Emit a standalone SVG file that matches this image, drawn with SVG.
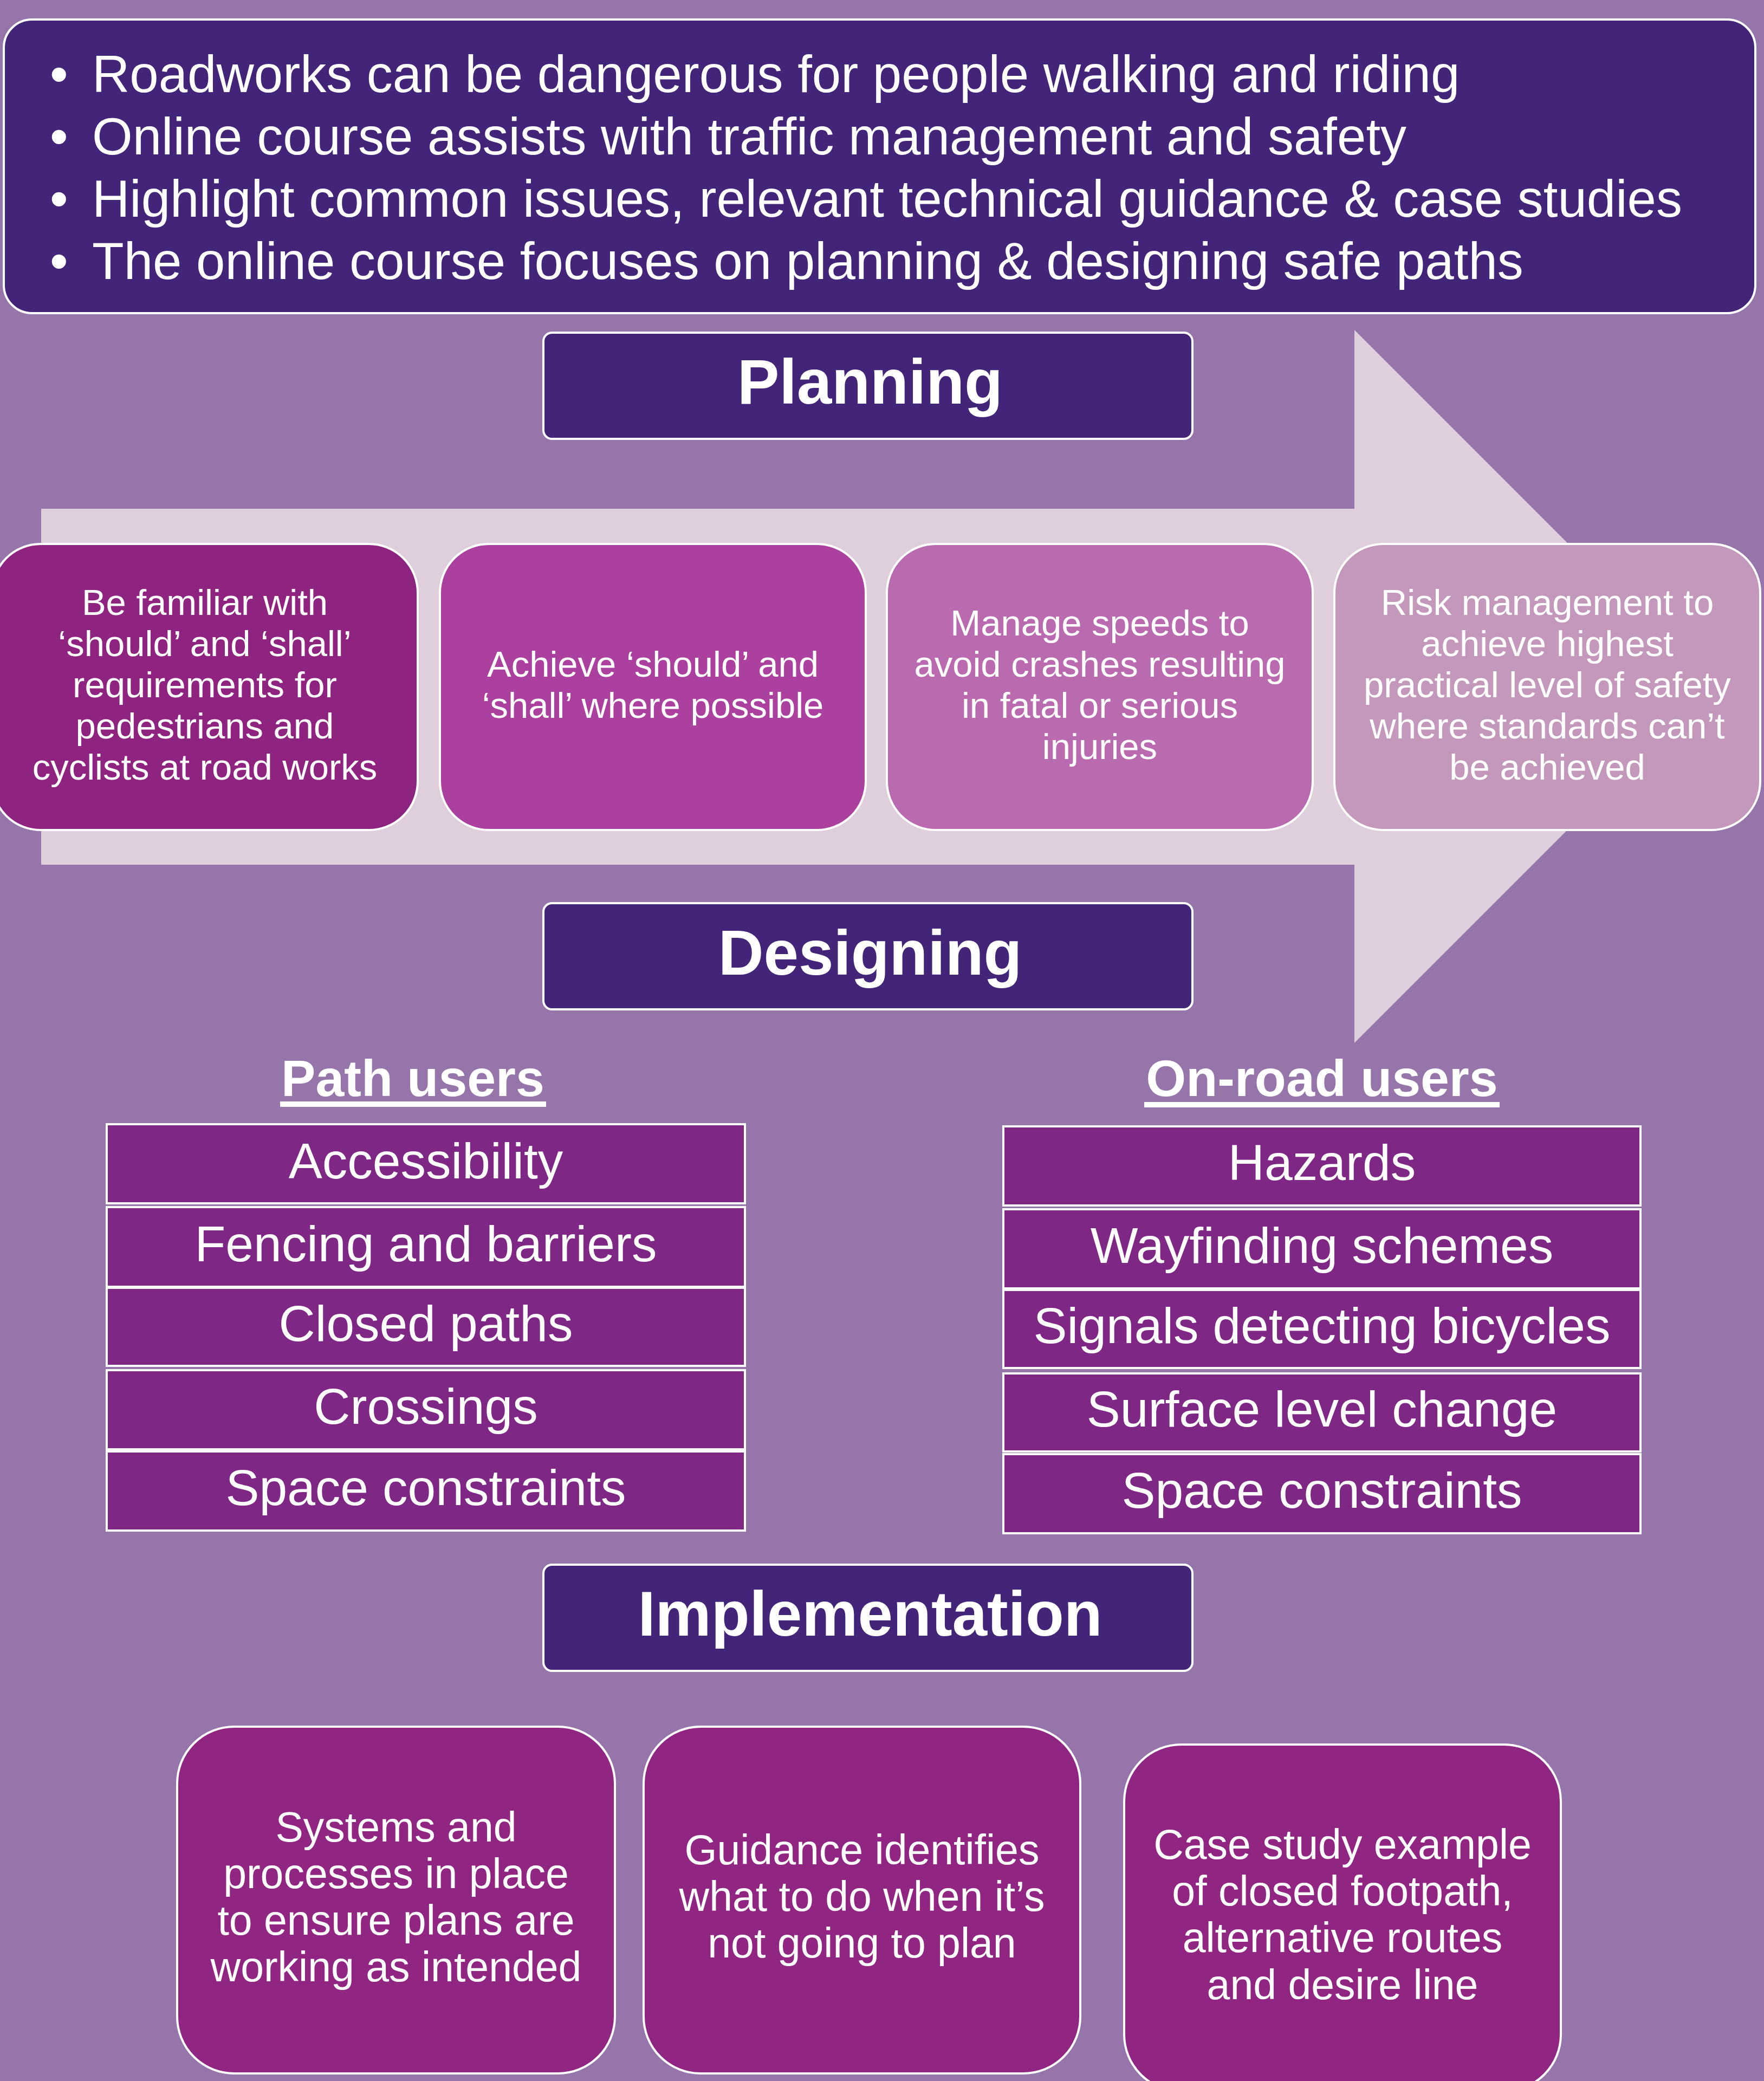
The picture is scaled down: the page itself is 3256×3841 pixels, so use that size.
<svg xmlns="http://www.w3.org/2000/svg" width="3256" height="3841" viewBox="0 0 3256 3841">
<style>
text{font-family:"Liberation Sans",Arial,sans-serif;fill:#fff}
.bul{font-size:96px}
.hd{font-size:116px;font-weight:bold;text-anchor:middle}
.sub{font-size:95px;font-weight:bold;text-anchor:middle}
.pt{font-size:67px;text-anchor:middle}
.li{font-size:93px;text-anchor:middle}
.bt{font-size:77px;text-anchor:middle}
.dark{fill:#422478;stroke:#fff;stroke-width:4}
.step{stroke:#fff;stroke-width:4}
.row{fill:#7E2784;stroke:#fff;stroke-width:4}
.imp{fill:#912682;stroke:#fff;stroke-width:4}
</style>
<rect x="0" y="0" width="3256" height="3841" fill="#9575AA"/>

<g id="intro">
<rect class="dark" x="7" y="36" width="3233" height="542" rx="52" ry="52"/>
<text class="bul" x="92" y="170">•<tspan x="170">Roadworks can be dangerous for people walking and riding</tspan></text>
<text class="bul" x="92" y="285">•<tspan x="170">Online course assists with traffic management and safety</tspan></text>
<text class="bul" x="92" y="400">•<tspan x="170">Highlight common issues, relevant technical guidance &amp; case studies</tspan></text>
<text class="bul" x="92" y="515">•<tspan x="170">The online course focuses on planning &amp; designing safe paths</tspan></text>
</g>

<g id="arrow">
<polygon points="76,939 2500,939 2500,609 3158,1267 2500,1925 2500,1596 76,1596" fill="#DFCEDC"/>
</g>

<g id="planning">
<rect class="dark" x="1003" y="614" width="1198" height="196" rx="16" ry="16"/>
<text class="hd" x="1606" y="745">Planning</text>
</g>

<g id="step1">
<rect class="step" x="-15" y="1004" width="786" height="528" rx="90" ry="90" fill="#8F2480"/>
<text class="pt" x="378" y="1135">Be familiar with</text>
<text class="pt" x="378" y="1211">‘should’ and ‘shall’</text>
<text class="pt" x="378" y="1287">requirements for</text>
<text class="pt" x="378" y="1363">pedestrians and</text>
<text class="pt" x="378" y="1439">cyclists at road works</text>
</g>
<g id="step2">
<rect class="step" x="812" y="1004" width="786" height="528" rx="90" ry="90" fill="#AC409E"/>
<text class="pt" x="1205" y="1249">Achieve ‘should’ and</text>
<text class="pt" x="1205" y="1325">‘shall’ where possible</text>
</g>
<g id="step3">
<rect class="step" x="1637" y="1004" width="786" height="528" rx="90" ry="90" fill="#BA6AAF"/>
<text class="pt" x="2030" y="1173">Manage speeds to</text>
<text class="pt" x="2030" y="1249">avoid crashes resulting</text>
<text class="pt" x="2030" y="1325">in fatal or serious</text>
<text class="pt" x="2030" y="1401">injuries</text>
</g>
<g id="step4">
<rect class="step" x="2463" y="1004" width="786" height="528" rx="90" ry="90" fill="#C398BB"/>
<text class="pt" x="2856" y="1135">Risk management to</text>
<text class="pt" x="2856" y="1211">achieve highest</text>
<text class="pt" x="2856" y="1287">practical level of safety</text>
<text class="pt" x="2856" y="1363">where standards can’t</text>
<text class="pt" x="2856" y="1439">be achieved</text>
</g>

<g id="designing">
<rect class="dark" x="1003" y="1667" width="1198" height="196" rx="16" ry="16"/>
<text class="hd" x="1606" y="1799">Designing</text>
</g>

<g id="path-users">
<text class="sub" x="762" y="2023">Path users</text>
<rect x="517" y="2033" width="491" height="10" fill="#fff"/>
<rect class="row" x="197" y="2075" width="1178" height="146"/>
<text class="li" x="786" y="2175">Accessibility</text>
<rect class="row" x="197" y="2228" width="1178" height="147"/>
<text class="li" x="786" y="2328">Fencing and barriers</text>
<rect class="row" x="197" y="2377" width="1178" height="144"/>
<text class="li" x="786" y="2475">Closed paths</text>
<rect class="row" x="197" y="2529" width="1178" height="146"/>
<text class="li" x="786" y="2628">Crossings</text>
<rect class="row" x="197" y="2679" width="1178" height="146"/>
<text class="li" x="786" y="2778">Space constraints</text>
</g>

<g id="onroad-users">
<text class="sub" x="2440" y="2023">On-road users</text>
<rect x="2112" y="2034" width="656" height="10" fill="#fff"/>
<rect class="row" x="1852" y="2079" width="1176" height="146"/>
<text class="li" x="2440" y="2178">Hazards</text>
<rect class="row" x="1852" y="2232" width="1176" height="146"/>
<text class="li" x="2440" y="2331">Wayfinding schemes</text>
<rect class="row" x="1852" y="2381" width="1176" height="144"/>
<text class="li" x="2440" y="2479">Signals detecting bicycles</text>
<rect class="row" x="1852" y="2535" width="1176" height="144"/>
<text class="li" x="2440" y="2633">Surface level change</text>
<rect class="row" x="1852" y="2684" width="1176" height="146"/>
<text class="li" x="2440" y="2783">Space constraints</text>
</g>

<g id="implementation">
<rect class="dark" x="1003" y="2888" width="1198" height="196" rx="16" ry="16"/>
<text class="hd" x="1606" y="3019">Implementation</text>
</g>

<g id="impl1">
<rect class="imp" x="327" y="3187" width="808" height="640" rx="105" ry="105"/>
<text class="bt" x="731" y="3399">Systems and</text>
<text class="bt" x="731" y="3485">processes in place</text>
<text class="bt" x="731" y="3571">to ensure plans are</text>
<text class="bt" x="731" y="3657">working as intended</text>
</g>
<g id="impl2">
<rect class="imp" x="1188" y="3187" width="806" height="640" rx="105" ry="105"/>
<text class="bt" x="1591" y="3441">Guidance identifies</text>
<text class="bt" x="1591" y="3527">what to do when it’s</text>
<text class="bt" x="1591" y="3613">not going to plan</text>
</g>
<g id="impl3">
<rect class="imp" x="2075" y="3220" width="806" height="640" rx="105" ry="105"/>
<text class="bt" x="2478" y="3431">Case study example</text>
<text class="bt" x="2478" y="3517">of closed footpath,</text>
<text class="bt" x="2478" y="3603">alternative routes</text>
<text class="bt" x="2478" y="3690">and desire line</text>
</g>

<g id="connectors"></g>
</svg>
